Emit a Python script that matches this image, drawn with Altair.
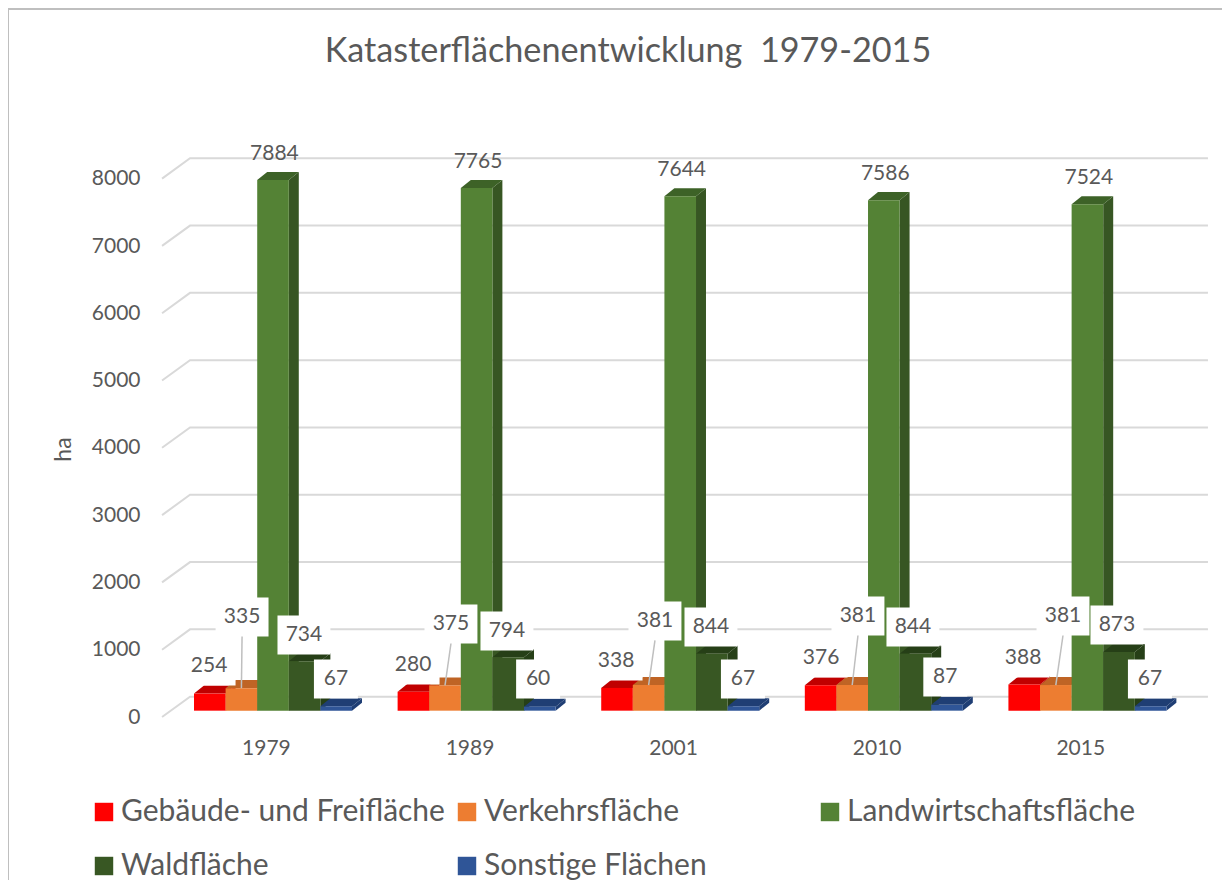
import altair as alt
import pandas as pd

TITLE = "Katasterflächenentwicklung\u00a0 1979-2015"
YEARS = ["1979", "1989", "2001", "2010", "2015"]
SERIES = ["Gebäude- und Freifläche", "Verkehrsfläche", "Landwirtschaftsfläche", "Waldfläche", "Sonstige Flächen"]
VALUES = [
    [254, 280, 338, 376, 388],
    [335, 375, 381, 381, 381],
    [7884, 7765, 7644, 7586, 7524],
    [734, 794, 844, 844, 873],
    [67, 60, 67, 87, 67],
]
FRONT = ["#FF0000", "#ED7D31", "#548235", "#385723", "#2F5597"]
TOP = ["#C00000", "#BF6425", "#3D6227", "#263F17", "#1F3E74"]
SIDE = ["#C00000", "#BF6425", "#375623", "#263F17", "#1F3E74"]
# hand-placed data-label centres (x in category units, y in ha)
LABEL_X = [
    [0.074, 1.076, 2.073, 3.080, 4.072],
    [0.236, 1.262, 2.264, 3.261, 4.268],
    [0.395, 1.395, 2.395, 3.395, 4.395],
    [0.540, 1.537, 2.539, 3.531, 4.533],
    [0.697, 1.690, 2.696, 3.690, 4.695],
]
LABEL_Y = [
    [664, 679, 739, 783, 783],
    [1392, 1288, 1333, 1407, 1407],
    [8272, 8153, 8032, 7974, 7912],
    [1125, 1184, 1244, 1244, 1273],
    [471, 471, 471, 501, 471],
]
GRID = [0, 1000, 2000, 3000, 4000, 5000, 6000, 7000, 8000]
BAR_W = 0.1552
DEPTH_X = 0.049
DEPTH_Y = 119
GRAY = "#595959"
FONT = "Lato"
W, H = 1214, 871
X_MIN, X_MAX = -0.9136, 5.049
Y_MIN, Y_MAX = -2516, 10426
TICK_X = [i + 0.353 for i in range(5)]

xs = alt.Scale(domain=[X_MIN, X_MAX], range=[0, W], nice=False, zero=False)
ys = alt.Scale(domain=[Y_MIN, Y_MAX], range=[H, 0], nice=False, zero=False)
x_axis = alt.Axis(
    orient="bottom", offset=-143, values=TICK_X,
    labelExpr="['" + "','".join(YEARS) + "'][round(datum.value-0.353)]",
    domain=False, ticks=False, grid=False, title=None, labelPadding=0, labelFontSize=21,
    labelFont=FONT, labelColor=GRAY)
y_axis = alt.Axis(
    orient="left", offset=-132, values=GRID, format="d", domain=False, ticks=False, grid=False,
    labelPadding=0, labelOffset=6.5, labelFontSize=21, labelFont=FONT, labelColor=GRAY,
    title="ha", titleFont=FONT, titleFontSize=23, titleColor=GRAY, titleFontWeight="normal",
    titleX=-65, titleY=440)
X = alt.X("x:Q", scale=xs, axis=x_axis)
Y = alt.Y("y:Q", scale=ys, axis=y_axis, stack=False)
X2 = alt.X2("x2:Q")
Y2 = alt.Y2("y2:Q")

layers = []

# frame
frame = pd.DataFrame({"x": [X_MIN], "x2": [X_MAX], "y": [Y_MAX], "y2": [Y_MIN]})
layers.append(alt.Chart(frame).mark_rule(color="#BFBFBF", strokeWidth=2).encode(x=X, x2=X2, y=Y))
layers.append(alt.Chart(frame).mark_rule(color="#BFBFBF", strokeWidth=2).encode(x=X, y=Y, y2=Y2))

# gridlines with their slanted stub on the side wall
grid_rows = []
for g in GRID:
    grid_rows += [
        {"g": g, "o": 0, "x": -0.157, "y": g - 94},
        {"g": g, "o": 1, "x": -0.0196, "y": g + 208},
        {"g": g, "o": 2, "x": 4.98, "y": g + 208},
    ]
layers.append(alt.Chart(pd.DataFrame(grid_rows)).mark_line(color="#D9D9D9", strokeWidth=2).encode(
    x=X, y=Y, detail="g:N", order="o:Q"))

# bars, painted left to right: side, top, front
for j, name in enumerate(SERIES):
    side_rows, top_rows, front_rows = [], [], []
    for i in range(5):
        v = VALUES[j][i]
        x0 = i + j * BAR_W
        x1 = x0 + BAR_W
        side_rows += [
            {"k": i, "x": x1, "y": 0, "y2": v},
            {"k": i, "x": x1 + DEPTH_X, "y": DEPTH_Y, "y2": v + DEPTH_Y},
        ]
        top_rows += [
            {"k": i, "x": x0, "y": v, "y2": v},
            {"k": i, "x": x0 + DEPTH_X, "y": v, "y2": v + DEPTH_Y},
            {"k": i, "x": x1, "y": v, "y2": v + DEPTH_Y},
            {"k": i, "x": x1 + DEPTH_X, "y": v + DEPTH_Y, "y2": v + DEPTH_Y},
        ]
        front_rows.append({"series": name, "x": x0, "x2": x1, "y": 0, "y2": v})
    layers.append(alt.Chart(pd.DataFrame(side_rows)).mark_area(color=SIDE[j], interpolate="linear").encode(
        x=X, y=Y, y2=Y2, detail="k:N"))
    layers.append(alt.Chart(pd.DataFrame(top_rows)).mark_area(color=TOP[j], interpolate="linear").encode(
        x=X, y=Y, y2=Y2, detail="k:N"))
    layers.append(alt.Chart(pd.DataFrame(front_rows)).mark_rect().encode(
        x=X, x2=X2, y=Y, y2=Y2,
        color=alt.Color("series:N", scale=alt.Scale(domain=SERIES, range=FRONT), legend=alt.Legend(
            orient="none", legendX=81, legendY=788, direction="horizontal", columns=3, gridAlign="all",
            title=None, symbolType="square", symbolSize=340, symbolStrokeWidth=0, labelFont=FONT,
            labelFontSize=30, labelColor=GRAY, labelLimit=420, rowPadding=24, columnPadding=7,
            labelOffset=2)),
    ))

# label boxes, leaders, labels
box_rows, label_rows, leader_rows = [], [], []
for j in range(5):
    for i in range(5):
        v = VALUES[j][i]
        lx, ly = LABEL_X[j][i], LABEL_Y[j][i]
        label_rows.append({"x": lx, "y": ly, "t": str(v)})
        if j != 2:
            hw = 0.130 if v >= 100 else 0.108
            box_rows.append({"x": lx - hw, "x2": lx + hw, "y": ly - 290, "y2": ly + 290})
        if j == 1:
            leader_rows.append({"x": lx, "x2": i + 1.5 * BAR_W, "y": ly - 290, "y2": v})

layers.append(alt.Chart(pd.DataFrame(box_rows)).mark_rect(color="white").encode(
    x=X, x2=X2, y=Y, y2=Y2))
layers.append(alt.Chart(pd.DataFrame(leader_rows)).mark_rule(color="#BFBFBF", strokeWidth=1.5).encode(
    x=X, x2=X2, y=Y, y2=Y2))
layers.append(alt.Chart(pd.DataFrame(label_rows)).mark_text(
    font=FONT, fontSize=21, color=GRAY, align="center", baseline="middle").encode(
    x=X, y=Y, text="t:N"))

chart = alt.layer(*layers).resolve_scale(color="shared").properties(
    width=W, height=H,
    title=alt.TitleParams(TITLE, anchor="middle", dx=13, offset=-61, fontSize=34.2, font=FONT,
                          fontWeight="normal", color=GRAY),
    autosize=alt.AutoSizeParams(type="none"),
    padding={"left": 0, "top": 1, "right": 0, "bottom": 0},
).configure_view(stroke=None)

chart.save("out.html", embed_options={"renderer": "svg", "actions": False})
